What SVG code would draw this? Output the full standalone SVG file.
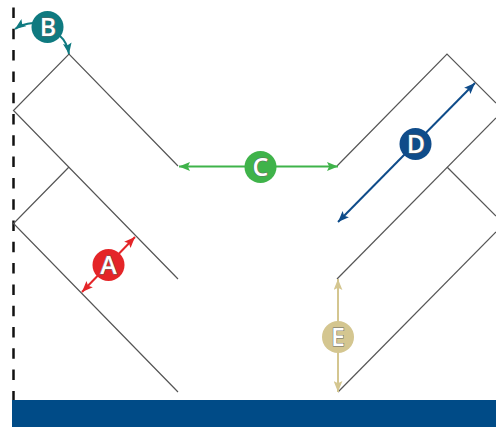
<svg xmlns="http://www.w3.org/2000/svg" width="496" height="427" viewBox="0 0 496 427">
<style>
.wall{fill:none;stroke:#555;stroke-width:1.2}
.dash{fill:none;stroke:#111;stroke-width:2.5;stroke-dasharray:10.5 10.8;stroke-dashoffset:13.8}
.c{fill:none;stroke-width:2}
.l{font-family:"Open Sans",sans-serif;font-weight:600;font-size:25px;fill:#fff;stroke:#666;stroke-width:1;text-anchor:middle;paint-order:stroke}
</style>
<defs>
<marker id="mA" viewBox="0 0 10 8" refX="10" refY="4" markerWidth="11" markerHeight="9" markerUnits="userSpaceOnUse" orient="auto-start-reverse"><path d="M0 0L10 4L0 8L2 4Z" fill="#e42528"/></marker>
<marker id="mB" viewBox="0 0 10 8" refX="10" refY="4" markerWidth="11" markerHeight="9" markerUnits="userSpaceOnUse" orient="auto-start-reverse"><path d="M0 0L10 4L0 8L2 4Z" fill="#0f7a80"/></marker>
<marker id="mC" viewBox="0 0 10 8" refX="10" refY="4" markerWidth="11" markerHeight="9" markerUnits="userSpaceOnUse" orient="auto-start-reverse"><path d="M0 0L10 4L0 8L2 4Z" fill="#3fb34a"/></marker>
<marker id="mD" viewBox="0 0 10 8" refX="10" refY="4" markerWidth="11" markerHeight="9" markerUnits="userSpaceOnUse" orient="auto-start-reverse"><path d="M0 0L10 4L0 8L2 4Z" fill="#0f4c8a"/></marker>
<marker id="mE" viewBox="0 0 10 8" refX="10" refY="4" markerWidth="11" markerHeight="9" markerUnits="userSpaceOnUse" orient="auto-start-reverse"><path d="M0 0L10 4L0 8L2 4Z" fill="#d4c690"/></marker>
</defs>
<rect id="base" x="12" y="400" width="484" height="27" fill="#004b87"/>
<path class="dash" d="M13.500 0V400"/>
<g id="walls">
<path class="wall" d="M178 166L69 54L13.500 110.500L178 279"/>
<path class="wall" d="M69 167L13.500 223.500L178 392"/>
<path class="wall" d="M496 103L447 54L337 166"/>
<path class="wall" d="M337 279L496 118"/>
<path class="wall" d="M447 167L496 216"/>
<path class="wall" d="M338 392L496 232"/>
</g>
<g id="connectors">
<path class="c" stroke="#e42528" marker-start="url(#mA)" marker-end="url(#mA)" d="M82 292L135 237"/>
<path class="c" stroke="#0f7a80" marker-end="url(#mB)" d="M33 23Q22 24 15 29"/>
<path class="c" stroke="#0f7a80" marker-end="url(#mB)" d="M60 36Q67 42 69 54"/>
<path class="c" stroke="#3fb34a" marker-start="url(#mC)" marker-end="url(#mC)" d="M179 166.500H338"/>
<path class="c" stroke="#0f4c8a" marker-start="url(#mD)" marker-end="url(#mD)" d="M338 222L475 83"/>
<path class="c" stroke="#d4c690" marker-start="url(#mE)" marker-end="url(#mE)" d="M338 279V392"/>
</g>
<g id="A"><circle cx="108.500" cy="265" r="16" fill="#e42528"/><text class="l" x="108.500" y="274">A</text></g>
<g id="B"><circle cx="47.500" cy="27" r="16" fill="#0f7a80"/><text class="l" x="48" y="36">B</text></g>
<g id="C"><circle cx="260.500" cy="167" r="16" fill="#3fb34a"/><text class="l" x="260.500" y="176">C</text></g>
<g id="D"><circle cx="415.500" cy="144" r="16" fill="#0f4c8a"/><text class="l" x="416" y="153">D</text></g>
<g id="E"><circle cx="338" cy="337" r="16" fill="#d4c690"/><text class="l" x="338" y="346">E</text></g>
</svg>
